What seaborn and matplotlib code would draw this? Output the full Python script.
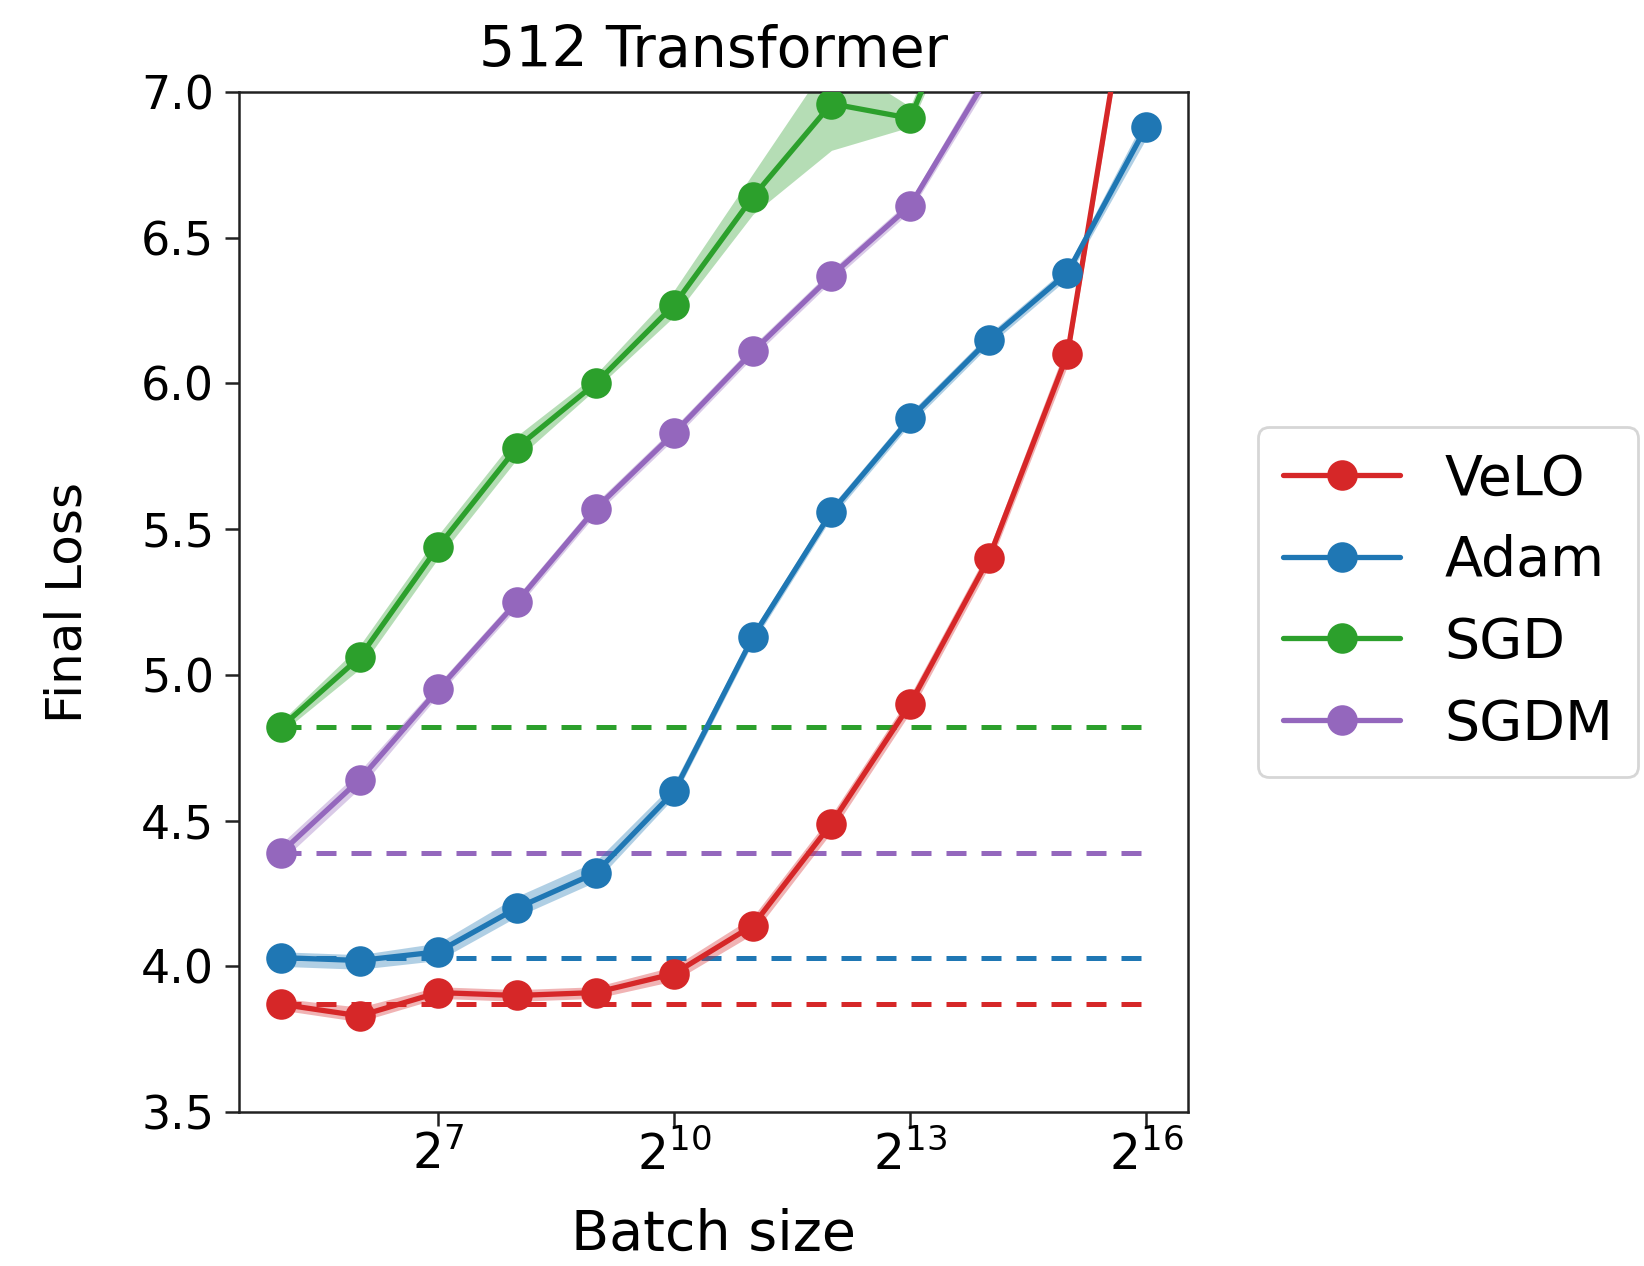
import numpy as np
import pandas as pd
import matplotlib
matplotlib.use("Agg")
import matplotlib.pyplot as plt
import seaborn as sns

# expoente do batch size (2^k)
log_bs = [5, 6, 7, 8, 9, 10, 11, 12, 13, 14, 15, 16]

velo = [3.87, 3.83, 3.91, 3.90, 3.91, 3.975, 4.14, 4.49, 4.90, 5.40, 6.10, 7.74]
velo_lo = [3.85, 3.81, 3.89, 3.88, 3.89, 3.95, 4.11, 4.46, 4.87, 5.37, 6.06, 7.70]
velo_hi = [3.89, 3.86, 3.93, 3.92, 3.93, 4.00, 4.17, 4.52, 4.93, 5.43, 6.14, 7.78]

adam = [4.03, 4.02, 4.05, 4.20, 4.32, 4.60, 5.13, 5.56, 5.88, 6.15, 6.38, 6.88]
adam_lo = [4.00, 3.99, 4.02, 4.17, 4.29, 4.58, 5.11, 5.54, 5.86, 6.13, 6.36, 6.84]
adam_hi = [4.05, 4.04, 4.08, 4.24, 4.36, 4.63, 5.15, 5.58, 5.90, 6.17, 6.40, 6.92]

sgd = [4.82, 5.06, 5.44, 5.78, 6.00, 6.27, 6.64, 6.96, 6.91, 7.55, np.nan, np.nan]
sgd_lo = [4.80, 5.02, 5.40, 5.74, 5.98, 6.23, 6.58, 6.80, 6.88, 7.50, np.nan, np.nan]
sgd_hi = [4.84, 5.10, 5.48, 5.82, 6.03, 6.32, 6.72, 7.12, 6.95, 7.60, np.nan, np.nan]

sgdm = [4.39, 4.64, 4.95, 5.25, 5.57, 5.83, 6.11, 6.37, 6.61, 7.06, np.nan, np.nan]
sgdm_lo = [4.36, 4.61, 4.93, 5.23, 5.55, 5.81, 6.09, 6.35, 6.59, 7.03, np.nan, np.nan]
sgdm_hi = [4.42, 4.67, 4.97, 5.27, 5.59, 5.85, 6.13, 6.39, 6.63, 7.09, np.nan, np.nan]

names = ["VeLO", "Adam", "SGD", "SGDM"]
colors = ["#d62728", "#1f77b4", "#2ca02c", "#9467bd"]
means = [velo, adam, sgd, sgdm]
lows = [velo_lo, adam_lo, sgd_lo, sgdm_lo]
highs = [velo_hi, adam_hi, sgd_hi, sgdm_hi]

sns.set_style("ticks")
plt.rcParams["font.family"] = ["DejaVu Sans"]
plt.rcParams["text.color"] = "black"
plt.rcParams["axes.labelcolor"] = "black"
plt.rcParams["xtick.color"] = "black"
plt.rcParams["ytick.color"] = "black"

fig = plt.figure(figsize=(16.44, 12.66), dpi=100)
ax = fig.add_axes([0.1455, 0.1216, 0.577, 0.8057])

bs = [2.0 ** k for k in log_bs]

for name, c, m, lo, hi in zip(names, colors, means, lows, highs):
    df = pd.DataFrame({"Batch size": bs, "Final Loss": m})
    sns.lineplot(data=df, x="Batch size", y="Final Loss", ax=ax, color=c,
                 marker="o", markersize=22, markeredgewidth=0, linewidth=3.8,
                 label=name, zorder=3)
    ax.fill_between(bs, lo, hi, color=c, alpha=0.35, linewidth=0, zorder=2)
    # linha tracejada no valor do menor batch
    ax.plot([bs[0], bs[-1]], [m[0], m[0]], color=c, linestyle="--",
            linewidth=3.6, dashes=(4, 3), zorder=1)

ax.set_xscale("log", base=2)
ax.set_xlim(2 ** 4.47, 2 ** 16.53)
ax.set_ylim(3.5, 7.0)
ax.set_xticks([2 ** 7, 2 ** 10, 2 ** 13, 2 ** 16])
ax.set_xticklabels([r"$2^{7}$", r"$2^{10}$", r"$2^{13}$", r"$2^{16}$"])
ax.minorticks_off()
ax.set_yticks([3.5, 4.0, 4.5, 5.0, 5.5, 6.0, 6.5, 7.0])

for s in ax.spines.values():
    s.set_linewidth(1.8)
    s.set_color("#222222")
ax.tick_params(axis="y", labelsize=33, width=1.8, length=10, pad=8, color="#222222")
ax.tick_params(axis="x", labelsize=35, width=1.8, length=10, color="#222222")

ax.set_xlabel("Batch size", fontsize=40, labelpad=20)
ax.set_ylabel("Final Loss", fontsize=36, labelpad=36)
ax.set_title("512 Transformer", fontsize=41, pad=18)

leg = ax.legend(loc="center left", bbox_to_anchor=(1.045, 0.5), fontsize=40,
                frameon=True, handlelength=2.1, borderpad=0.45, labelspacing=0.5,
                handletextpad=0.8, fancybox=True)
leg.get_frame().set_edgecolor("#cccccc")
leg.get_frame().set_linewidth(2)

fig.savefig("out.png", dpi=100)
